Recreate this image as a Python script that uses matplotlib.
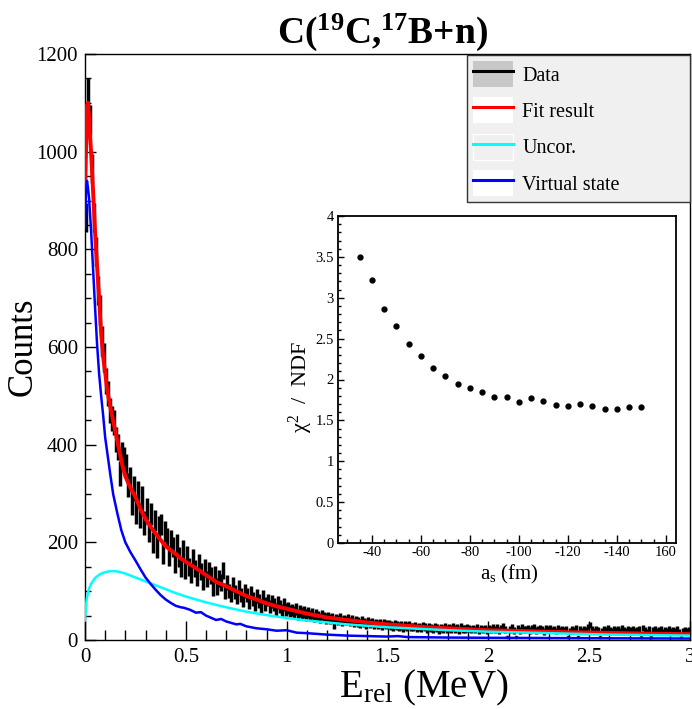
import numpy as np
import matplotlib
matplotlib.use('Agg')
import matplotlib.pyplot as plt
from matplotlib.patches import Patch
from matplotlib.lines import Line2D
from matplotlib.ticker import MultipleLocator, FuncFormatter

plt.rcParams['font.family'] = 'Liberation Serif'
plt.rcParams['mathtext.fontset'] = 'custom'
plt.rcParams['mathtext.rm'] = 'Liberation Serif'
plt.rcParams['mathtext.it'] = 'Liberation Serif:italic'
plt.rcParams['mathtext.bf'] = 'Liberation Serif:bold'

# ---------------- data ----------------
bin_width = 0.01
counts = [
    865, 1120, 1065, 965, 865, 795, 715, 676, 612, 578,
    530, 505, 470, 453, 445, 410, 395, 341, 380, 370,
    356, 318, 330, 280, 310, 262, 300, 255, 290, 240,
    268, 222, 258, 200, 245, 190, 232, 236, 178, 222,
    210, 172, 205, 190, 158, 198, 170, 150, 185, 145,
    175, 150, 135, 168, 146, 128, 158, 140, 120, 148,
    125, 142, 132, 108, 135, 110, 126, 118, 142, 100,
    118, 100, 92, 114, 98, 88, 108, 92, 82, 100,
    92, 78, 97, 84, 74, 90, 80, 70, 88, 74,
    82, 68, 79, 72, 63, 77, 69, 60, 72, 62,
    66, 60, 62, 57, 63, 52, 60, 55, 58, 51,
    56, 50, 54, 47, 52, 49, 45, 51, 47, 44,
    48, 43, 46, 32, 44, 41, 45, 39, 42, 40,
    43, 38, 41, 36, 40, 37, 34, 39, 36, 33,
    38, 34, 36, 32, 35, 31, 34, 30, 33, 31,
    32, 30, 28, 31, 29, 27, 30, 26, 29, 28,
    30, 27, 26, 29, 25, 27, 24, 28, 26, 23,
    27, 25, 22, 26, 24, 21, 25, 23, 26, 22,
    25, 22, 27, 23, 24, 21, 26, 23, 22, 25,
    23, 21, 24, 22, 25, 20, 23, 21, 24, 20,
    24, 21, 26, 22, 25, 20, 23, 27, 21, 6,
    22, 25, 20, 6, 23, 19, 26, 22, 21, 24,
    20, 23, 25, 19, 22, 24, 21, 18, 23, 22,
    24, 20, 22, 19, 25, 21, 23, 20, 22, 6,
    19, 23, 21, 24, 6, 22, 18, 23, 21, 26,
    30, 22, 19, 23, 21, 6, 18, 22, 20, 24,
    21, 19, 23, 20, 22, 18, 24, 21, 19, 22,
    20, 23, 18, 21, 22, 6, 24, 20, 17, 22,
    6, 21, 23, 18, 20, 22, 17, 21, 19, 23,
    18, 21, 19, 22, 17, 6, 18, 21, 19, 20,
]
# half-length of the error bars, one value per block of 10 bins
err_blocks = [30, 26, 25, 22, 20, 18, 17, 15, 14, 13,
              12, 11, 10, 10, 9, 9, 8, 8, 8, 7,
              7, 7, 7, 6, 6, 6, 6, 6, 6, 6]

fit_E = [0.000, 0.005, 0.010, 0.015, 0.020, 0.030, 0.040, 0.050, 0.060, 0.070,
         0.080, 0.090, 0.100, 0.110, 0.125, 0.140, 0.155, 0.170, 0.185, 0.200,
         0.225, 0.250, 0.275, 0.300, 0.325, 0.350, 0.375, 0.400, 0.425, 0.450,
         0.475, 0.500, 0.550, 0.600, 0.650, 0.700, 0.750, 0.800, 0.850, 0.900,
         0.950, 1.000, 1.100, 1.200, 1.300, 1.400, 1.500, 1.600, 1.700, 1.800,
         1.900, 2.000, 2.200, 2.400, 2.600, 2.800, 3.000]
fit_y = [905, 1000, 1095, 1100, 1070, 1000, 920, 835, 765, 700,
         628, 580, 548, 512, 478, 448, 418, 388, 358, 335,
         312, 293, 268, 248, 232, 218, 205, 192, 184, 176,
         167, 160, 147, 133, 119, 110, 100, 90, 83, 75,
         69, 64, 54, 46, 41, 36, 32, 29, 26, 24,
         22, 20, 18, 16, 14.5, 13, 12]

virt_E = [0.000, 0.005, 0.010, 0.015, 0.020, 0.030, 0.040, 0.050, 0.060, 0.070,
          0.080, 0.090, 0.100, 0.110, 0.125, 0.140, 0.160, 0.180, 0.200, 0.225,
          0.250, 0.275, 0.300, 0.325, 0.350, 0.375, 0.400, 0.425, 0.450, 0.475,
          0.490, 0.520, 0.550, 0.575, 0.600, 0.650, 0.675, 0.700, 0.750, 0.770,
          0.800, 0.850, 0.900, 0.950, 1.000, 1.050, 1.100, 1.200, 1.300, 1.400,
          1.500, 1.550, 1.600, 1.800, 2.000, 2.300, 2.600, 3.000]
virt_y = [845, 920, 940, 925, 905, 840, 760, 680, 605, 545,
          500, 460, 415, 385, 340, 298, 260, 225, 200, 180,
          163, 145, 128, 115, 103, 92, 83, 76, 70, 67,
          66, 62, 56, 57, 50, 41, 43, 38, 32, 33,
          28, 24, 22, 19, 20, 15, 14, 11, 9, 8,
          7, 8, 6, 5, 4.5, 4, 3.5, 3]

unc_E = [0.000, 0.005, 0.010, 0.020, 0.030, 0.050, 0.075, 0.100, 0.125, 0.150,
         0.175, 0.200, 0.250, 0.300, 0.350, 0.400, 0.450, 0.500, 0.600, 0.700,
         0.800, 0.900, 1.000, 1.100, 1.200, 1.300, 1.400, 1.500, 1.600, 1.700,
         1.800, 2.000, 2.200, 2.400, 2.600, 2.800, 3.000]
unc_y = [40, 72, 88, 105, 115, 127, 135, 139, 141, 141,
         139, 136, 128, 120, 112, 104, 96, 89, 77, 67,
         58, 51, 45, 40, 36, 32, 29, 26, 24, 22,
         20, 17, 15, 13, 11, 10, 9]

# inset: chi2/NDF vs scattering length
as_vals = [35, 40, 45, 50, 55, 60, 65, 70, 75, 80, 85, 90,
           95, 100, 105, 110, 115, 120, 125, 130, 135, 140, 145, 150]
chi2_ndf = [3.50, 3.215, 2.86, 2.65, 2.43, 2.29, 2.14, 2.04, 1.94, 1.89, 1.85, 1.79,
            1.785, 1.72, 1.77, 1.735, 1.69, 1.67, 1.695, 1.68, 1.635, 1.64, 1.66, 1.66]
inset_xticks = [40, 60, 80, 100, 120, 140, 160]
inset_xticklabels = ['-40', '-60', '-80', '-100', '-120', '-140', '160']

legend_labels = ['Data', 'Fit result', 'Uncor.', 'Virtual state']

# ---------------- figure ----------------
W, H = 692, 709
fig = plt.figure(figsize=(W / 100, H / 100), dpi=100)

L, R, T, B = 85, 690, 54, 640
ax = fig.add_axes([L / W, 1 - B / H, (R - L) / W, (B - T) / H])

centers = np.arange(len(counts)) * bin_width + bin_width / 2
cnt = np.array(counts, dtype=float)
err = np.repeat(err_blocks, 10).astype(float)
err = np.where(cnt > 10, err, np.sqrt(cnt))
ax.errorbar(centers, cnt, xerr=bin_width / 2, yerr=err, fmt='none',
            ecolor='black', elinewidth=2.5, capsize=0, zorder=2)
ax.plot(fit_E, fit_y, color='#ff0000', lw=2.8, zorder=3)
ax.plot(unc_E, unc_y, color='#00ffff', lw=1.8, zorder=4)
ax.plot(virt_E, virt_y, color='#0000ff', lw=1.8, zorder=5)

ax.set_xlim(0, 3)
ax.set_ylim(0, 1200)
ax.xaxis.set_major_locator(MultipleLocator(0.5))
ax.xaxis.set_minor_locator(MultipleLocator(0.1))
ax.yaxis.set_major_locator(MultipleLocator(200))
ax.yaxis.set_minor_locator(MultipleLocator(50))
ax.xaxis.set_major_formatter(FuncFormatter(lambda v, p: ('%g' % v)))
ax.yaxis.set_major_formatter(FuncFormatter(lambda v, p: ('%g' % v)))
ax.tick_params(which='both', direction='in', top=False, right=False, labelsize=15)
ax.tick_params(axis='x', which='major', length=14, width=1, pad=6)
ax.tick_params(axis='x', which='minor', length=7, width=1)
ax.tick_params(axis='y', which='major', length=8, width=1, pad=5)
ax.tick_params(axis='y', which='minor', length=4.5, width=1)
for s in ax.spines.values():
    s.set_linewidth(1.0)

ax.set_ylabel('Counts', fontsize=25)
ax.yaxis.set_label_coords((40 - L) / (R - L), 0.5)
ax.set_xlabel(r'E$_{\mathrm{rel}}$ (MeV)', fontsize=28)
ax.xaxis.set_label_coords((424 - L) / (R - L), (B - 668) / (B - T))

fig.text(383 / W, 1 - 32 / H, r'C($^{\mathbf{19}}$C,$^{\mathbf{17}}$B+n)',
         fontsize=27, fontweight='bold', ha='center', va='center')

# legend
handles = [
    (Patch(facecolor='#c8c8c8', edgecolor='none'), Line2D([], [], color='black', lw=2.2)),
    (Patch(facecolor='white', edgecolor='none'), Line2D([], [], color='#ff0000', lw=2.2)),
    (Patch(facecolor='#f0f0f0', edgecolor='white', lw=1), Line2D([], [], color='#00ffff', lw=2.2)),
    (Patch(facecolor='white', edgecolor='none'), Line2D([], [], color='#0000ff', lw=2.2)),
]
lx0 = (467 - L) / (R - L)
leg = ax.legend(handles, legend_labels, loc='upper left',
                bbox_to_anchor=(lx0, 0, 1 - lx0, 1 - 1 / (B - T)), mode='expand',
                borderaxespad=0, fontsize=14.5, handlelength=2.0, handleheight=1.6,
                handletextpad=0.45, labelspacing=0.52, borderpad=0.3,
                fancybox=False, framealpha=1, facecolor='#f0f0f0', edgecolor='#333333')
leg.get_frame().set_linewidth(1.0)
leg.set_zorder(10)

# inset
iL, iR, iT, iB = 338, 676, 216, 543
ax2 = fig.add_axes([iL / W, 1 - iB / H, (iR - iL) / W, (iB - iT) / H])
ax2.plot(as_vals, chi2_ndf, 'o', color='black', markersize=3.5)
ax2.set_xlim(26.2, 164.1)
ax2.set_ylim(0, 4)
ax2.set_xticks(inset_xticks)
ax2.set_xticklabels(inset_xticklabels)
ax2.xaxis.set_minor_locator(MultipleLocator(5))
ax2.yaxis.set_major_locator(MultipleLocator(0.5))
ax2.yaxis.set_minor_locator(MultipleLocator(0.1))
ax2.yaxis.set_major_formatter(FuncFormatter(lambda v, p: ('%g' % v)))
ax2.tick_params(which='both', direction='in', top=False, right=False, labelsize=10.5)
ax2.tick_params(axis='x', which='major', length=6, width=1, pad=2)
ax2.tick_params(axis='x', which='minor', length=3, width=1)
ax2.tick_params(axis='y', which='major', length=4, width=1, pad=3)
ax2.tick_params(axis='y', which='minor', length=2, width=1)
for s in ax2.spines.values():
    s.set_linewidth(1.3)
ax2.set_ylabel(r'χ$^{2}$  /  NDF', fontsize=16)
ax2.yaxis.set_label_coords((315 - iL) / (iR - iL), 0.477)
ax2.set_xlabel(r'a$_{\mathrm{s}}$ (fm)', fontsize=15)
ax2.xaxis.set_label_coords((509 - iL) / (iR - iL), (iB - 563) / (iB - iT))

fig.savefig('out.png', dpi=100)
